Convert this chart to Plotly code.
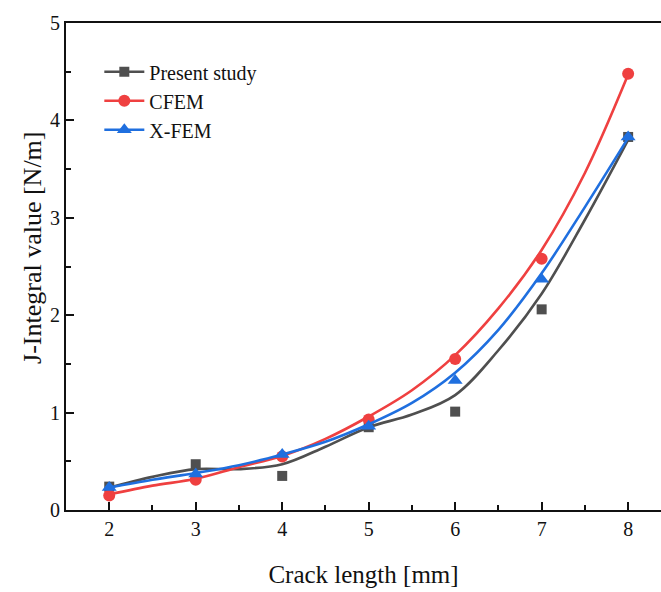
import plotly.graph_objects as go

# Data points
crack_length = [2, 3, 4, 5, 6, 7, 8]
present_study = [0.24, 0.47, 0.35, 0.85, 1.01, 2.06, 3.83]
cfem = [0.15, 0.31, 0.55, 0.93, 1.55, 2.58, 4.48]
xfem = [0.23, 0.37, 0.57, 0.86, 1.33, 2.37, 3.83]

# Smoothed curves
fit_x = [2, 2.5, 3, 3.5, 4, 4.5, 5, 5.5, 6, 6.5, 7, 7.5, 8]
present_fit = [0.23, 0.34, 0.42, 0.42, 0.47, 0.65, 0.85, 0.98, 1.18, 1.64, 2.22, 2.98, 3.80]
cfem_fit = [0.16, 0.25, 0.32, 0.44, 0.555, 0.73, 0.96, 1.23, 1.59, 2.07, 2.67, 3.46, 4.47]
xfem_fit = [0.23, 0.31, 0.38, 0.46, 0.57, 0.70, 0.88, 1.10, 1.41, 1.85, 2.43, 3.11, 3.82]

x_ticks = [2, 3, 4, 5, 6, 7, 8]
y_ticks = [0, 1, 2, 3, 4, 5]

FONT = "Liberation Serif"
series = [
    ("Present study", present_study, present_fit, "#4f4f4f", "square", 10),
    ("CFEM", cfem, cfem_fit, "#ef4040", "circle", 12),
    ("X-FEM", xfem, xfem_fit, "#1f6fdf", "triangle-up", 13),
]

fig = go.Figure()
for name, vals, fit, color, sym, size in series:
    fig.add_trace(go.Scatter(x=fit_x, y=fit, mode="lines",
                             line=dict(color=color, width=2.6, shape="spline", smoothing=1.0),
                             showlegend=False, hoverinfo="skip"))
    fig.add_trace(go.Scatter(x=crack_length, y=vals, mode="markers",
                             marker=dict(color=color, symbol=sym, size=size),
                             showlegend=False, name=name))
for name, vals, fit, color, sym, size in series:
    fig.add_trace(go.Scatter(x=[None], y=[None], mode="lines+markers", name=name,
                             line=dict(color=color, width=2.6),
                             marker=dict(color=color, symbol=sym, size=size)))

fig.update_layout(
    width=661, height=592,
    margin=dict(l=66, r=0, t=23, b=82),
    plot_bgcolor="white", paper_bgcolor="white",
    font=dict(family=FONT, color="#111111", size=20),
    legend=dict(x=0.056, y=0.94, xanchor="left", yanchor="top",
                font=dict(family=FONT, size=20, color="#111111"),
                bgcolor="rgba(0,0,0,0)", tracegroupgap=0, itemwidth=40),
    annotations=[dict(text="J-Integral value [N/m]", textangle=-90,
                      xref="paper", yref="paper", x=-0.0555, y=0.538,
                      xanchor="center", yanchor="middle", showarrow=False,
                      font=dict(family=FONT, size=26, color="#111111"))],
)
fig.update_xaxes(
    range=[1.5, 8.38], tickvals=x_ticks, ticktext=[str(v) for v in x_ticks],
    ticks="inside", ticklen=8, tickwidth=1.5, tickcolor="#111",
    minor=dict(dtick=0.5, ticks="inside", ticklen=5, tickwidth=1.5, tickcolor="#111", tick0=1.5),
    showline=True, linecolor="#111", linewidth=2, mirror=True,
    showgrid=False, zeroline=False,
    tickfont=dict(family=FONT, size=20),
    title=dict(text="Crack length [mm]", font=dict(family=FONT, size=25), standoff=26),
)
fig.update_yaxes(
    range=[0, 5], tickvals=y_ticks, ticktext=[str(v) for v in y_ticks],
    ticks="inside", ticklen=8, tickwidth=1.5, tickcolor="#111",
    minor=dict(dtick=0.5, ticks="inside", ticklen=5, tickwidth=1.5, tickcolor="#111"),
    showline=True, linecolor="#111", linewidth=2, mirror=False,
    showgrid=False, zeroline=False,
    tickfont=dict(family=FONT, size=20),
)

fig.write_html("out.html")
